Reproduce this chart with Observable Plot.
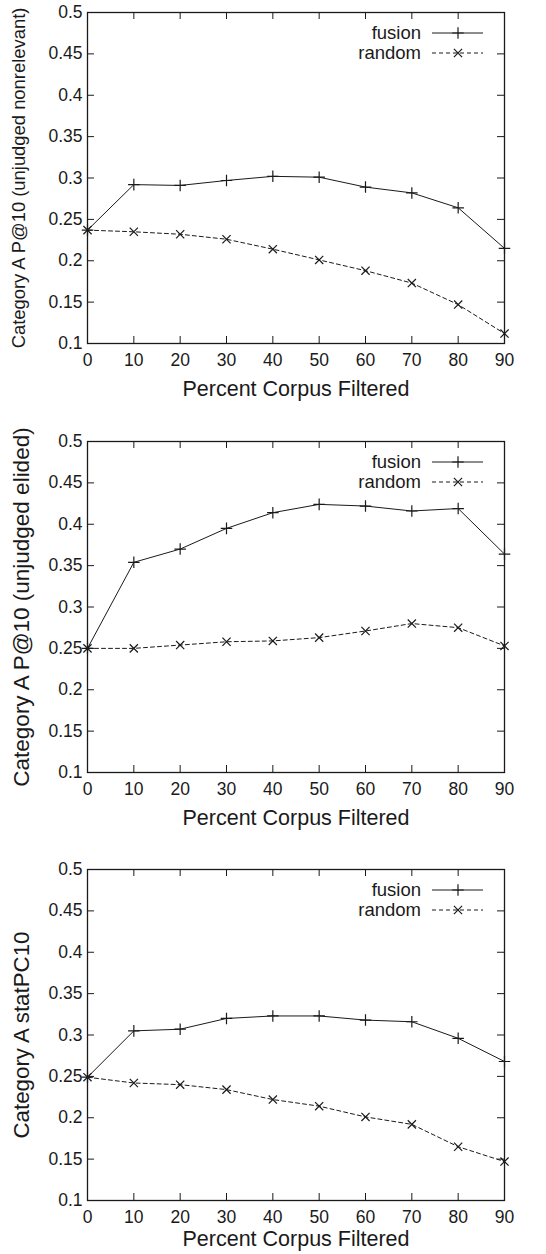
<!DOCTYPE html>
<html>
<head>
<meta charset="utf-8">
<script src="https://cdn.jsdelivr.net/npm/d3@7"></script>
<script src="https://cdn.jsdelivr.net/npm/@observablehq/plot@0.6"></script>
<style>
  html, body { margin: 0; padding: 0; background: #fff; }
  #charts svg { display: block; }
</style>
</head>
<body>
<div id="charts"></div>
<script>
// ---- data ----
const percentFiltered = [0, 10, 20, 30, 40, 50, 60, 70, 80, 90];
const yTicks = [0.1, 0.15, 0.2, 0.25, 0.3, 0.35, 0.4, 0.45, 0.5];
const seriesNames = ["fusion", "random"];
const xTitle = "Percent Corpus Filtered";
const yTitles = [
  "Category A P@10 (unjudged nonrelevant)",
  "Category A P@10 (unjudged elided)",
  "Category A statPC10"
];

const fusionNonrelevant = [0.237, 0.292, 0.291, 0.297, 0.302, 0.301, 0.289, 0.282, 0.264, 0.215];
const randomNonrelevant = [0.237, 0.235, 0.232, 0.226, 0.214, 0.201, 0.188, 0.173, 0.147, 0.112];

const fusionElided = [0.250, 0.354, 0.370, 0.395, 0.414, 0.424, 0.422, 0.416, 0.419, 0.364];
const randomElided = [0.250, 0.250, 0.254, 0.258, 0.259, 0.263, 0.271, 0.280, 0.275, 0.253];

const fusionStatPC = [0.249, 0.305, 0.307, 0.320, 0.323, 0.323, 0.318, 0.316, 0.296, 0.268];
const randomStatPC = [0.249, 0.242, 0.240, 0.234, 0.222, 0.214, 0.201, 0.192, 0.165, 0.147];

// ---- drawing ----
const FONT = "'Liberation Sans', Arial, Helvetica, sans-serif";
const INK = "#1a1a1a";
const W = 546, ML = 87, MR = 42, PH = 331;
const IW = W - ML - MR;
const R = 3.8;
const DASH = "4,3";
const TICK_FONT = 17.5;

function legendMark(marginTop) {
  return () => {
    const g = d3.create("svg:g").attr("font-family", FONT).attr("font-size", 18.5).attr("fill", INK);
    const right = W - MR;
    const styles = [
      {dash: null, sym: d3.symbolPlus},
      {dash: DASH, sym: d3.symbolTimes}
    ];
    seriesNames.forEach((name, i) => {
      const y = marginTop + 21 + i * 20;
      g.append("text").attr("x", right - 83).attr("y", y).attr("dy", "0.35em")
        .attr("text-anchor", "end").text(name);
      g.append("line").attr("x1", right - 72).attr("x2", right - 21).attr("y1", y).attr("y2", y)
        .attr("stroke", INK).attr("stroke-width", 1).attr("stroke-dasharray", styles[i].dash);
      g.append("path").attr("d", d3.symbol(styles[i].sym, R * R * Math.PI)())
        .attr("transform", `translate(${right - 46},${y})`)
        .attr("fill", "none").attr("stroke", INK).attr("stroke-width", 1.2);
    });
    return g.node();
  };
}

function panel({fusion, random, yTitle, yTitleSize, height, marginTop, xTitleDy, yTitleDx}) {
  const marginBottom = height - marginTop - PH;
  const fusionRows = percentFiltered.map((x, i) => ({x, y: fusion[i]}));
  const randomRows = percentFiltered.map((x, i) => ({x, y: random[i]}));
  return Plot.plot({
    width: W, height, marginLeft: ML, marginRight: MR, marginTop, marginBottom,
    style: {fontFamily: FONT, color: INK, background: "white", overflow: "visible"},
    x: {domain: [0, 90]},
    y: {domain: [0.1, 0.5]},
    marks: [
      Plot.axisX(percentFiltered, {tickSize: 0, tickPadding: 10, fontSize: TICK_FONT, label: null, fill: INK}),
      Plot.axisY(yTicks, {tickSize: 0, tickPadding: 5, fontSize: TICK_FONT, label: null, fill: INK,
        tickFormat: d => String(+d.toFixed(2))}),
      Plot.ruleY(yTicks, {insetRight: IW - 7, stroke: INK}),
      Plot.ruleY(yTicks, {insetLeft: IW - 7, stroke: INK}),
      Plot.ruleX(percentFiltered, {insetTop: PH - 7, stroke: INK}),
      Plot.ruleX(percentFiltered, {insetBottom: PH - 7, stroke: INK}),
      Plot.frame({stroke: INK, strokeWidth: 1.3}),
      Plot.line(fusionRows, {x: "x", y: "y", stroke: INK, strokeWidth: 1}),
      Plot.line(randomRows, {x: "x", y: "y", stroke: INK, strokeWidth: 1, strokeDasharray: DASH}),
      Plot.dot(fusionRows, {x: "x", y: "y", symbol: "plus", r: R, stroke: INK, strokeWidth: 1.2}),
      Plot.dot(randomRows, {x: "x", y: "y", symbol: "times", r: R, stroke: INK, strokeWidth: 1.2}),
      Plot.text([xTitle], {frameAnchor: "bottom", lineAnchor: "middle", textAnchor: "middle",
        dy: xTitleDy, fontSize: 21.5, fill: INK}),
      Plot.text([yTitle], {frameAnchor: "left", lineAnchor: "middle", textAnchor: "middle",
        rotate: -90, dx: yTitleDx, fontSize: yTitleSize, fill: INK}),
      legendMark(marginTop)
    ]
  });
}

const host = document.getElementById("charts");
host.append(panel({fusion: fusionNonrelevant, random: randomNonrelevant, yTitle: yTitles[0],
  yTitleSize: 18.4, height: 420, marginTop: 12, xTitleDy: 46, yTitleDx: -68}));
host.append(panel({fusion: fusionElided, random: randomElided, yTitle: yTitles[1],
  yTitleSize: 22.5, height: 414, marginTop: 21, xTitleDy: 46, yTitleDx: -66}));
host.append(panel({fusion: fusionStatPC, random: randomStatPC, yTitle: yTitles[2],
  yTitleSize: 22.3, height: 420, marginTop: 35, xTitleDy: 39, yTitleDx: -66}));
</script>
</body>
</html>
